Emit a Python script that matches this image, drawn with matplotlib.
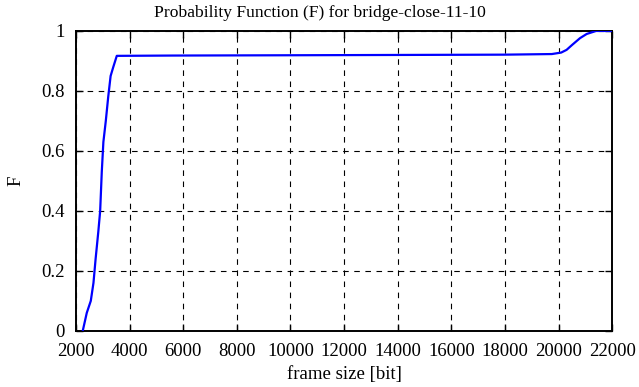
import matplotlib
matplotlib.use("Agg")
import matplotlib.pyplot as plt

# frame size [bit] vs cumulative probability F
frame_size = [2250, 2400, 2550, 2650, 2730, 2830, 2900, 2960, 3020, 3110, 3200,
              3290, 3390, 3520, 5600, 10000, 14000, 18000, 19750, 20100, 20300,
              20500, 20800, 21050, 21400, 22000]
prob_f = [0.0, 0.06, 0.10, 0.16, 0.24, 0.33, 0.40, 0.53, 0.63, 0.70, 0.78,
          0.85, 0.88, 0.917, 0.918, 0.919, 0.920, 0.921, 0.923, 0.928, 0.937,
          0.953, 0.976, 0.99, 1.0, 1.0]

xticks = list(range(2000, 22001, 2000))
yticks = [0, 0.2, 0.4, 0.6, 0.8, 1]

plt.rcParams["font.family"] = ["Liberation Serif", "DejaVu Serif"]

fig = plt.figure(figsize=(6.39, 3.87), dpi=100)
ax = fig.add_axes([0.119, 0.145, 0.839, 0.775])

ax.plot(frame_size, prob_f, color="#0000ff", linewidth=1.6, zorder=3)

ax.set_xlim(2000, 22000)
ax.set_ylim(0, 1)
ax.set_xticks(xticks)
ax.set_yticks(yticks)
ax.set_yticklabels(["0", "0.2", "0.4", "0.6", "0.8", "1"])
ax.tick_params(direction="in", length=5, width=1, top=True, right=True,
               labelsize=13.5)
ax.tick_params(axis="x", pad=9)
ax.tick_params(axis="y", pad=8)
ax.grid(True, color="black", linestyle=(0, (5, 5)), linewidth=0.8)
for s in ax.spines.values():
    s.set_linewidth(1.4)

ax.set_xlabel("frame size [bit]", fontsize=13.5, labelpad=4)
ax.set_ylabel("F", fontsize=13.5, labelpad=12)
# gnuplot centres the title on the whole canvas
fig.text(0.5, 1 - 17 / 387, "Probability Function (F) for bridge-close-11-10",
         fontsize=12.6, ha="center", va="baseline")

fig.savefig("out.png", dpi=100)
